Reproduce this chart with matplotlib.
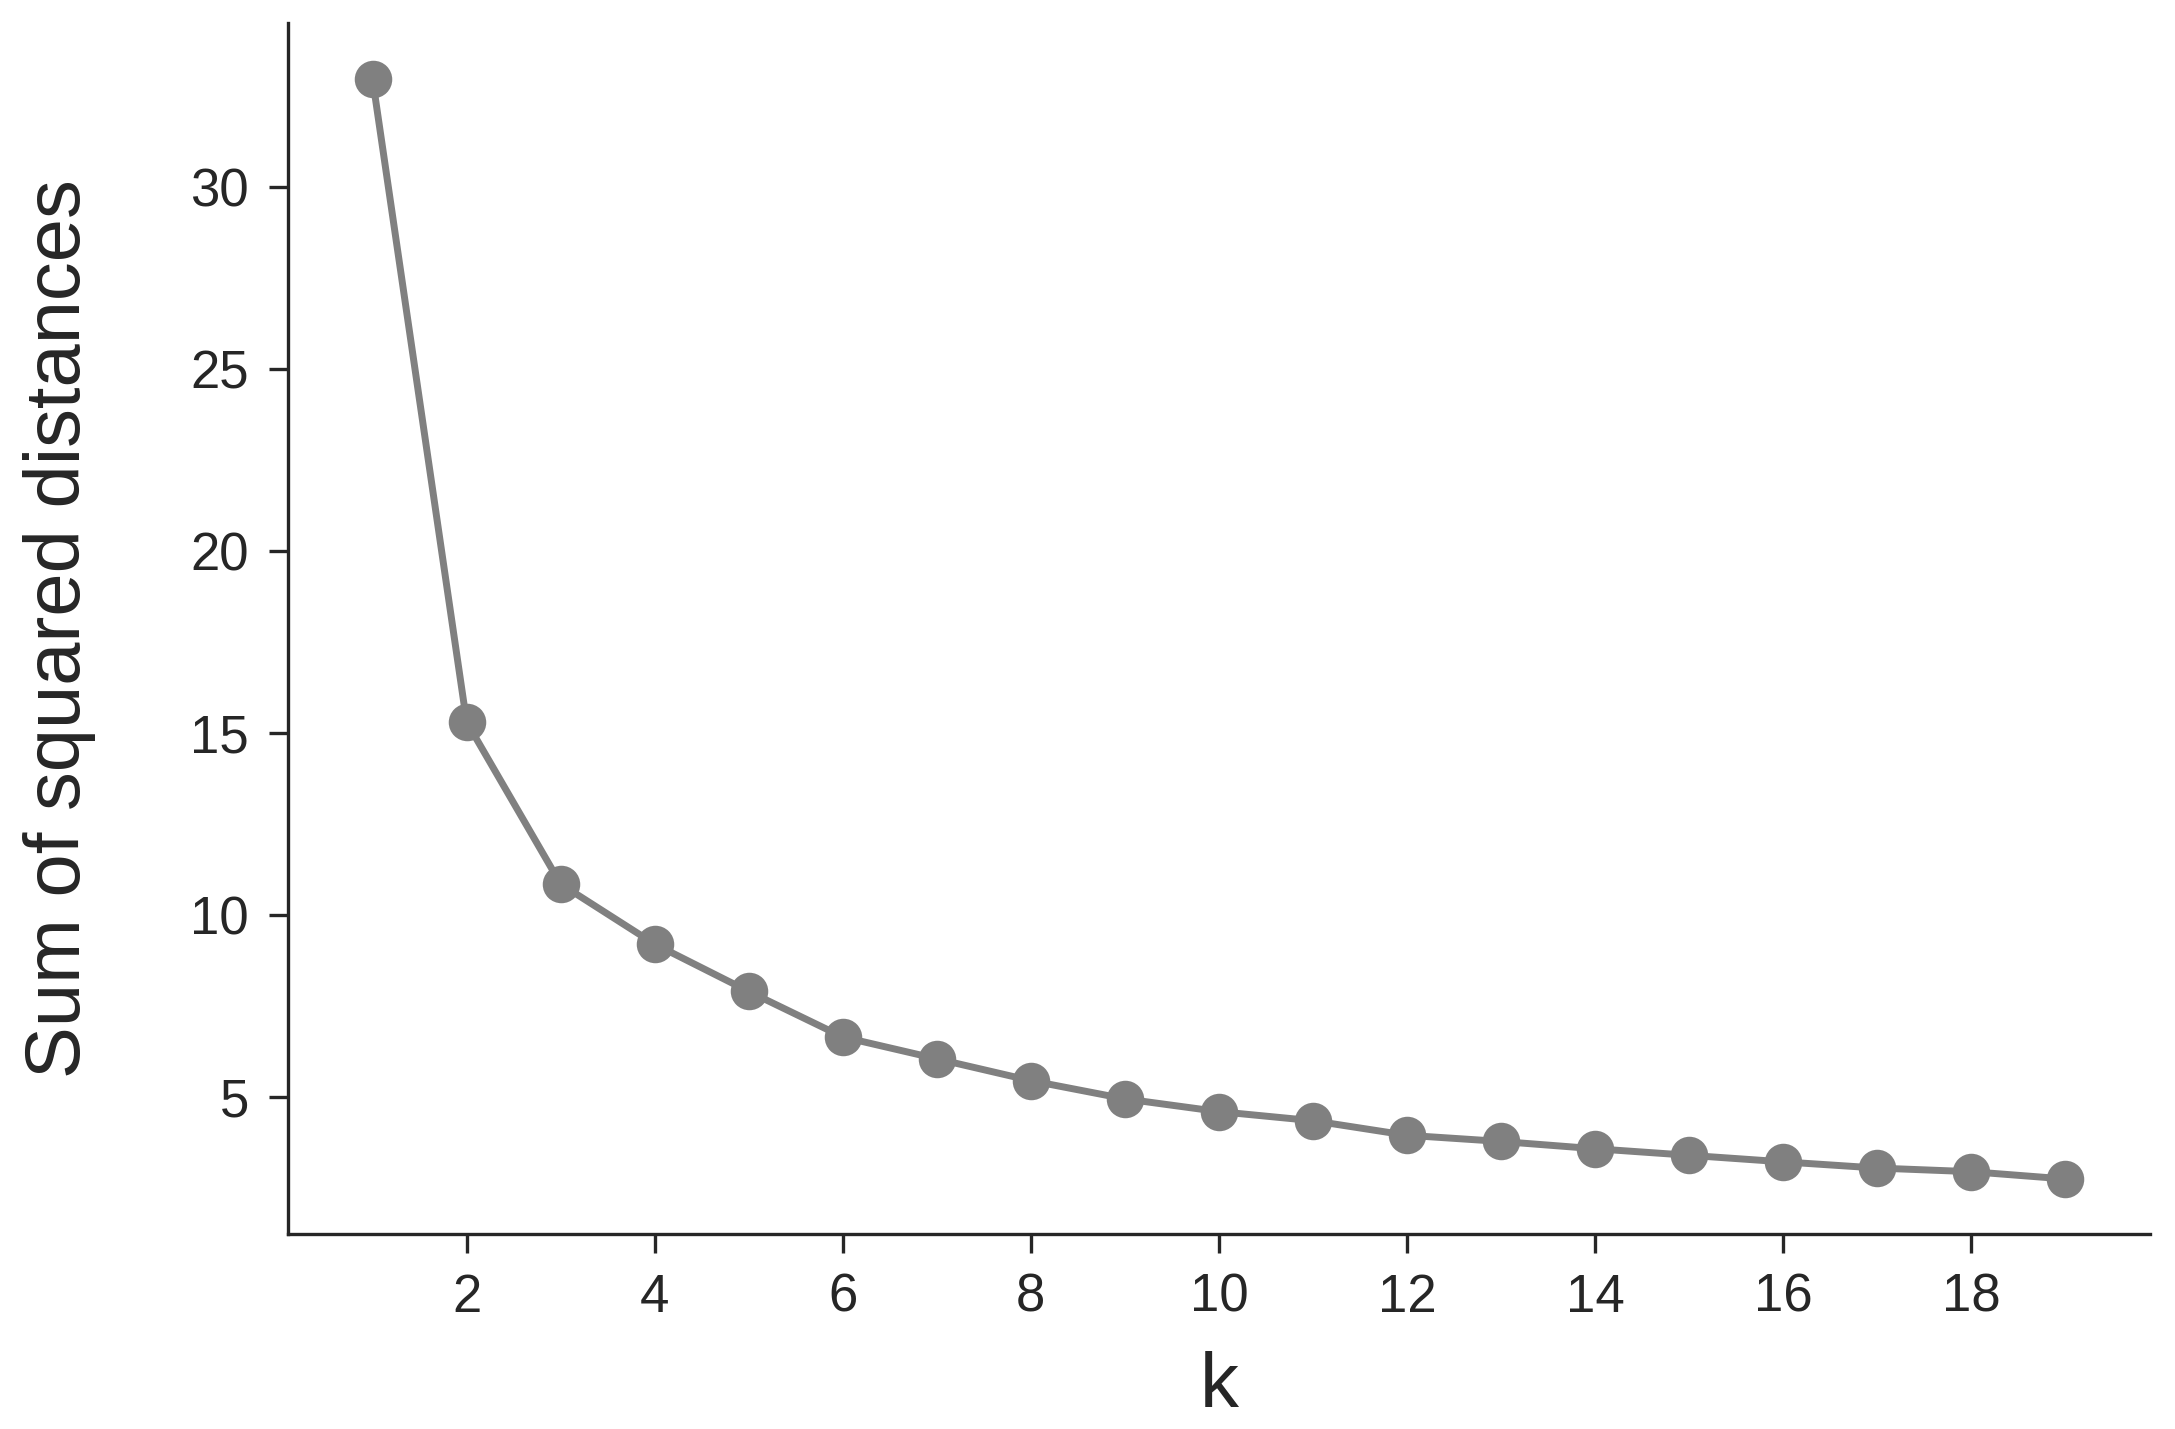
import matplotlib
matplotlib.use("Agg")
import matplotlib.pyplot as plt

# elbow curve: k vs sum of squared distances
k_values = list(range(1, 20))
sse = [32.95, 15.3, 10.85, 9.2, 7.9, 6.65, 6.05, 5.45, 4.95, 4.6,
       4.35, 3.95, 3.78, 3.58, 3.4, 3.22, 3.05, 2.95, 2.75]
x_ticks = [2, 4, 6, 8, 10, 12, 14, 16, 18]
y_ticks = [5, 10, 15, 20, 25, 30]

plt.rcParams['font.family'] = ['Liberation Sans', 'DejaVu Sans']
text_color = '#262626'

fig = plt.figure(figsize=(10.875, 7.145), dpi=200)
ax = fig.add_axes([0.1324, 0.1365, 0.856, 0.8475])

ax.plot(k_values, sse, color='#808080', linewidth=2.5,
        marker='o', markersize=13.5, markerfacecolor='#808080', markeredgewidth=0)

ax.set_xlim(0.1, 19.9)
ax.set_ylim(1.24, 34.5)
ax.set_xticks(x_ticks)
ax.set_yticks(y_ticks)

ax.spines['top'].set_visible(False)
ax.spines['right'].set_visible(False)
for side in ['left', 'bottom']:
    ax.spines[side].set_linewidth(1.2)
    ax.spines[side].set_color(text_color)

ax.tick_params(axis='both', direction='out', length=7, width=1.2,
               color=text_color, labelcolor=text_color, labelsize=19, pad=7)

ax.set_xlabel('k', fontsize=28, color=text_color, labelpad=10)
ax.set_ylabel('Sum of squared distances', fontsize=28, color=text_color, labelpad=34)

fig.savefig('out.png', dpi=200, facecolor='white')
